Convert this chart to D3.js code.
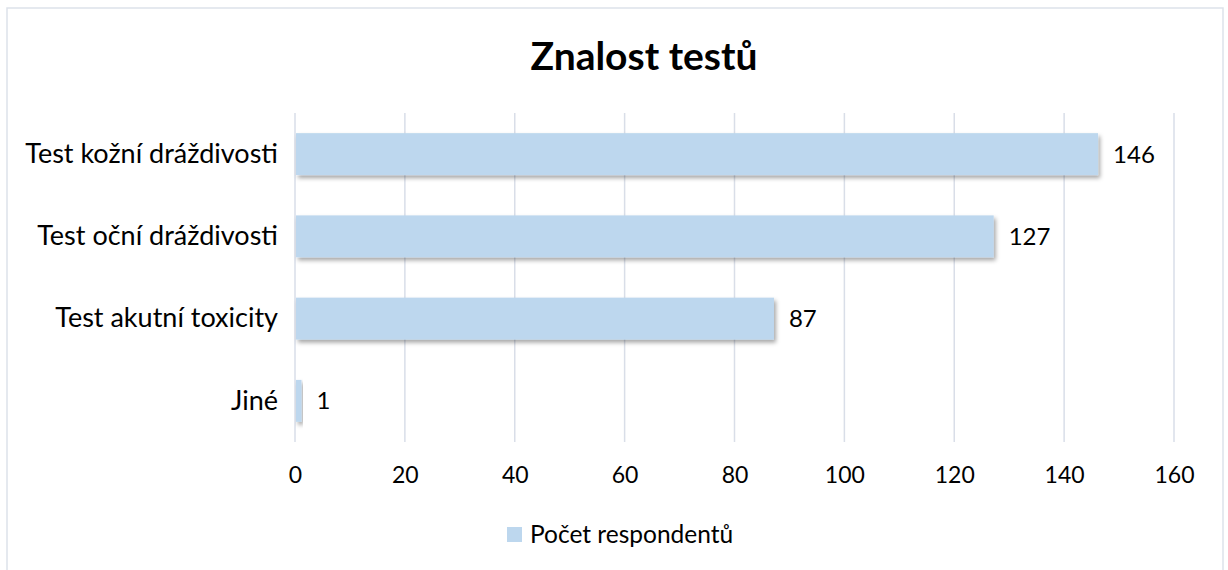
<!DOCTYPE html>
<html>
<head>
<meta charset="utf-8">
<script src="https://cdn.jsdelivr.net/npm/d3@7"></script>
<style>
  body { margin: 0; background: #fff; }
  text { font-family: Lato, "Open Sans", sans-serif; fill: #000; }
</style>
</head>
<body>
<div id="chart"></div>
<script>
// data
const categories = ["Test kožní dráždivosti", "Test oční dráždivosti", "Test akutní toxicity", "Jiné"];
const values = [146, 127, 87, 1];
const ticks = [0, 20, 40, 60, 80, 100, 120, 140, 160];
const seriesName = "Počet respondentů";
const title = "Znalost testů";

const width = 1228, height = 570;
const margin = { top: 113, right: 54, bottom: 128, left: 295 };
const barColor = "#bdd7ee";

let svg = d3.select("#chart")
    .append("svg")
    .attr("width", width)
    .attr("height", height)

// drop shadow for bars
let defs = svg.append("defs")
defs.append("filter")
    .attr("id", "shadow")
    .attr("x", "-5%").attr("y", "-20%")
    .attr("width", "120%").attr("height", "160%")
    .append("feDropShadow")
    .attr("dx", 2).attr("dy", 3)
    .attr("stdDeviation", 2)
    .attr("flood-color", "#000")
    .attr("flood-opacity", 0.35)

// outer border
svg.append("rect")
    .attr("x", 7).attr("y", 8)
    .attr("width", 1216).attr("height", 580)
    .attr("fill", "none")
    .attr("stroke", "#dde2ea")
    .attr("stroke-width", 1.5)

let x = d3.scaleLinear()
    .domain([0, 160])
    .range([margin.left, width - margin.right])

let y = d3.scaleBand()
    .domain(categories)
    .range([margin.top, height - margin.bottom])
    .paddingInner(0.49)
    .paddingOuter(0.245)

// gridlines
svg.append("g")
    .selectAll("line")
    .data(ticks)
    .enter()
    .append("line")
    .attr("x1", d => x(d)).attr("x2", d => x(d))
    .attr("y1", margin.top).attr("y2", height - margin.bottom)
    .attr("stroke", "#d9dee8")
    .attr("stroke-width", 1.5)

// x axis tick labels
let xAxis = svg.append("g")
    .attr("transform", "translate(0," + (height - margin.bottom) + ")")
    .call(d3.axisBottom(x).tickValues(ticks).tickSize(0).tickPadding(25))
xAxis.select(".domain").remove()
xAxis.selectAll("text")
    .style("font-size", "23px")
    .style("font-family", "Lato, sans-serif")
    .attr("fill", "#000")

// y axis category labels
let yAxis = svg.append("g")
    .attr("transform", "translate(" + margin.left + ",0)")
    .call(d3.axisLeft(y).tickSize(0).tickPadding(17))
yAxis.select(".domain").remove()
yAxis.selectAll("text")
    .style("font-size", "27px")
    .style("font-family", "Lato, sans-serif")
    .attr("fill", "#000")

// bars
svg.append("g")
    .selectAll("rect")
    .data(values)
    .enter()
    .append("rect")
    .attr("x", x(0) + 1)
    .attr("y", (d, i) => y(categories[i]))
    .attr("width", d => x(d) - x(0))
    .attr("height", y.bandwidth())
    .attr("fill", barColor)
    .attr("filter", "url(#shadow)")

// value labels
svg.append("g")
    .selectAll("text")
    .data(values)
    .enter()
    .append("text")
    .attr("x", d => x(d) + 16)
    .attr("y", (d, i) => y(categories[i]) + y.bandwidth() / 2)
    .attr("dy", "0.35em")
    .style("font-size", "24px")
    .text(d => d)

// title
svg.append("text")
    .attr("x", 644)
    .attr("y", 70)
    .attr("text-anchor", "middle")
    .style("font-size", "39px")
    .style("font-weight", "bold")
    .text(title)

// legend
let legend = svg.append("g")
legend.append("rect")
    .attr("x", 507).attr("y", 527)
    .attr("width", 15).attr("height", 15)
    .attr("fill", barColor)
legend.append("text")
    .attr("x", 530).attr("y", 534)
    .attr("dy", "0.35em")
    .style("font-size", "24.5px")
    .text(seriesName)
</script>
</body>
</html>
